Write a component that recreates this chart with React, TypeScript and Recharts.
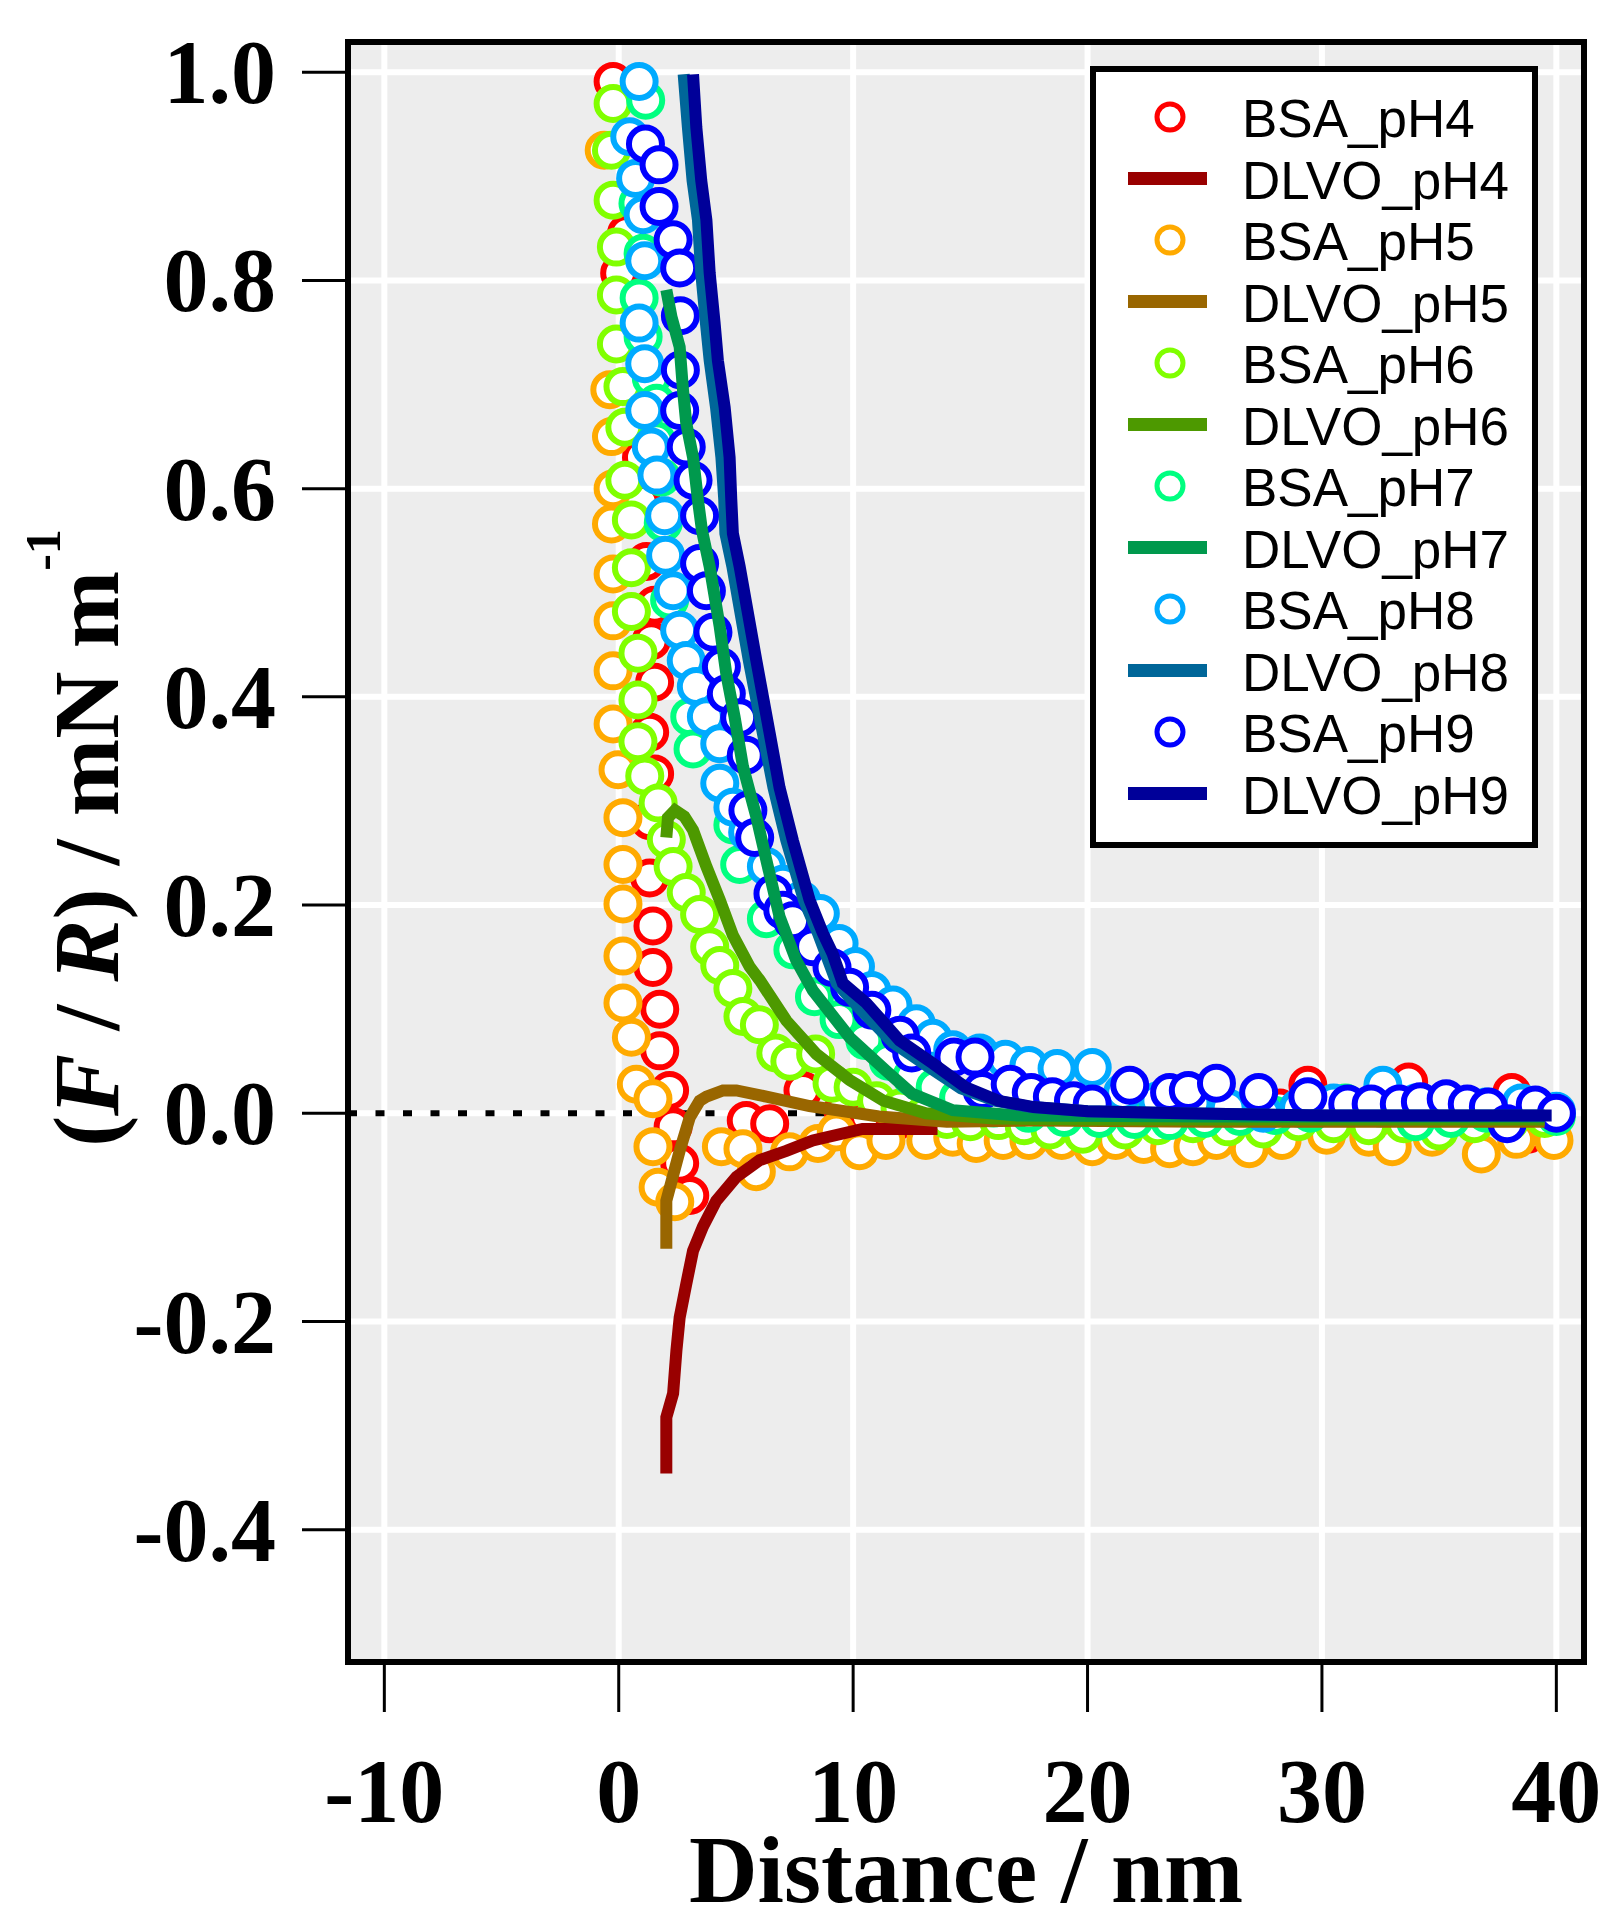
import React from 'react'
import {
  ComposedChart,
  Scatter,
  Line,
  XAxis,
  YAxis,
  CartesianGrid,
  ReferenceLine,
  ReferenceArea,
} from 'recharts'

// Force curves (F/R) vs separation distance, BSA layers at pH 4-9, with DLVO fits

type Pt = [number, number]

const xTicks = [-10, 0, 10, 20, 30, 40]
const yTicks = [-0.4, -0.2, 0, 0.2, 0.4, 0.6, 0.8, 1.0]

const bsaPH4: Pt[] = [
  [-0.24, 0.991], [0.33, 0.845], [0.04, 0.807], [1.18, 0.698], [0.97, 0.63], [0.97, 0.587],
  [1.18, 0.53], [1.53, 0.488], [1.39, 0.454], [1.53, 0.414], [1.32, 0.366], [1.53, 0.326],
  [1.32, 0.281], [1.32, 0.226], [1.46, 0.18], [1.46, 0.14], [1.75, 0.1], [1.75, 0.06],
  [2.17, 0.022], [2.32, -0.013], [2.6, -0.048], [3.03, -0.079], [5.44, -0.007], [6.44, -0.01],
  [7.86, 0.022], [9.56, 0.003], [10.6, -0.003], [11.8, -0.008], [13.2, -0.005], [14.6, -0.01],
  [16, -0.005], [17.4, -0.008], [19, -0.003], [20.6, -0.005], [22.2, 0], [23.8, -0.004],
  [25.4, 0], [27, -0.005], [28.2, 0.005], [29.4, 0.027], [30.6, 0.008], [32, 0.005],
  [33.7, 0.03], [35, 0.005], [36.5, -0.005], [38.1, 0.02], [38.8, -0.02], [40, 0],
]

const bsaPH5: Pt[] = [
  [-0.62, 0.925], [-0.38, 0.695], [-0.31, 0.65], [-0.24, 0.6], [-0.31, 0.566], [-0.24, 0.518],
  [-0.24, 0.473], [-0.24, 0.425], [-0.24, 0.374], [-0.03, 0.33], [0.18, 0.284], [0.18, 0.239],
  [0.18, 0.201], [0.18, 0.151], [0.18, 0.106], [0.54, 0.073], [0.75, 0.028], [1.46, 0.014],
  [1.46, -0.032], [1.68, -0.071], [2.39, -0.085], [4.38, -0.032], [5.3, -0.034], [5.87, -0.056],
  [7.29, -0.037], [8.5, -0.029], [9.28, -0.018], [10.27, -0.036], [11.4, -0.026], [13.1, -0.026],
  [14.25, -0.023], [15.25, -0.029], [16.4, -0.026], [17.5, -0.026], [18.9, -0.026], [20.2, -0.032],
  [21.2, -0.026], [22.4, -0.03], [23.5, -0.034], [24.5, -0.032], [25.5, -0.026], [26.9, -0.034],
  [28.3, -0.026], [30.2, -0.021], [32, -0.023], [33, -0.032], [34.7, -0.023], [36.8, -0.039],
  [38.3, -0.025], [39.9, -0.026],
]

const bsaPH6: Pt[] = [
  [-0.24, 0.97], [-0.31, 0.925], [-0.24, 0.877], [-0.1, 0.832], [-0.1, 0.786], [-0.1, 0.739],
  [0.18, 0.698], [0.26, 0.659], [0.26, 0.608], [0.54, 0.57], [0.54, 0.524], [0.54, 0.482],
  [0.82, 0.442], [0.82, 0.397], [0.82, 0.357], [1.11, 0.324], [1.68, 0.298], [2.03, 0.263],
  [2.32, 0.237], [2.88, 0.212], [3.45, 0.191], [3.88, 0.16], [4.31, 0.142], [4.87, 0.12],
  [5.3, 0.093], [6.0, 0.085], [6.7, 0.058], [7.3, 0.05], [8.4, 0.057], [9.1, 0.029],
  [10, 0.025], [11, 0.012], [12, 0.005], [13, -0.002], [14, -0.006], [15, -0.008],
  [16.2, -0.007], [17.3, -0.012], [18.4, -0.016], [19.8, -0.02], [21.6, -0.016], [23, -0.012],
  [24.5, -0.01], [26, -0.013], [27.5, -0.015], [29, -0.008], [30.5, -0.01], [32, -0.012],
  [33.5, -0.01], [35, -0.017], [36.5, -0.01], [38, -0.008], [39.5, -0.005],
]

const bsaPH7: Pt[] = [
  [1.15, 0.973], [0.82, 0.874], [1.04, 0.826], [0.87, 0.783], [1.04, 0.746], [1.39, 0.706],
  [1.61, 0.682], [1.61, 0.646], [1.82, 0.611], [1.9, 0.567], [2.17, 0.493], [3.03, 0.381],
  [3.17, 0.35], [4.87, 0.277], [5.16, 0.239], [6.3, 0.187], [7.43, 0.157], [8.35, 0.112],
  [9.4, 0.09], [10.5, 0.07], [11.5, 0.05], [12.5, 0.035], [13.5, 0.025], [14.5, 0.015],
  [16, 0.005], [17.5, 0], [19, -0.004], [20.5, -0.005], [22, -0.006], [23.5, -0.007],
  [25, -0.005], [26.5, -0.003], [28, -0.002], [29.5, 0], [31, 0.01], [32.5, 0.005],
  [34, -0.008], [35.5, -0.005], [37, 0], [38.5, 0.005], [40, -0.003],
]

const bsaPH8: Pt[] = [
  [0.87, 0.991], [0.47, 0.938], [0.72, 0.898], [1.04, 0.863], [1.11, 0.819], [0.87, 0.759],
  [1.11, 0.72], [1.11, 0.675], [1.39, 0.64], [1.63, 0.613], [1.96, 0.574], [2.0, 0.536],
  [2.32, 0.502], [2.6, 0.464], [2.88, 0.435], [3.31, 0.41], [3.74, 0.381], [4.31, 0.355],
  [4.31, 0.317], [4.87, 0.294], [5.5, 0.27], [6.3, 0.237], [7.0, 0.22], [7.8, 0.205],
  [8.6, 0.192], [9.4, 0.163], [10.1, 0.141], [10.8, 0.118], [11.7, 0.104], [12.7, 0.086],
  [13.4, 0.072], [14.25, 0.061], [15.4, 0.058], [16.5, 0.052], [17.5, 0.046], [18.7, 0.043],
  [20.2, 0.044], [21.5, 0.02], [23, 0.012], [24.5, 0.01], [26, 0.005], [27.5, 0],
  [29, 0.005], [30.5, 0.01], [32.6, 0.027], [34, 0.01], [35.5, 0.008], [37, 0.006],
  [38.5, 0.01], [40, 0.002],
]

const bsaPH9: Pt[] = [
  [1.14, 0.931], [1.72, 0.911], [1.72, 0.871], [2.32, 0.839], [2.6, 0.812], [2.63, 0.766],
  [2.63, 0.714], [2.6, 0.675], [2.88, 0.64], [3.17, 0.608], [3.45, 0.574], [3.45, 0.528],
  [3.74, 0.502], [4.02, 0.462], [4.38, 0.429], [4.59, 0.403], [5.16, 0.38], [5.44, 0.344],
  [5.51, 0.291], [5.8, 0.265], [6.58, 0.211], [7.0, 0.195], [7.42, 0.185], [8.27, 0.16],
  [9.1, 0.14], [9.85, 0.121], [10.8, 0.099], [12.0, 0.075], [12.5, 0.058], [14.3, 0.054],
  [15.2, 0.054], [15.5, 0.022], [16.7, 0.028], [17.6, 0.02], [18.5, 0.016], [19.4, 0.012],
  [20.2, 0.009], [21.8, 0.027], [23.5, 0.02], [24.3, 0.022], [25.5, 0.029], [27.3, 0.02],
  [29.4, 0.016], [31.1, 0.009], [32.1, 0.009], [33.3, 0.009], [34.2, 0.011], [35.3, 0.014],
  [36.2, 0.009], [37.1, 0.006], [37.9, -0.01], [39.1, 0.008], [40, 0],
]

const dlvoPH4: Pt[] = [
  [2.03, -0.346], [2.03, -0.292], [2.32, -0.269], [2.46, -0.228], [2.6, -0.196], [2.88, -0.164],
  [3.17, -0.132], [3.59, -0.109], [4.16, -0.084], [5.02, -0.061], [6.01, -0.045], [7.15, -0.036],
  [8.28, -0.026], [10.4, -0.015], [13.6, -0.015],
]

const dlvoPH5: Pt[] = [
  [2.03, -0.13], [2.03, -0.084], [2.6, -0.036], [3.03, -0.004], [3.45, 0.012], [3.74, 0.016],
  [4.45, 0.022], [5.02, 0.022], [6.3, 0.016], [8.14, 0.007], [11.1, -0.003], [14, -0.008],
  [17.7, -0.007], [25, -0.008], [32, -0.008], [39.5, -0.008],
]

const dlvoPH6: Pt[] = [
  [2.03, 0.265], [2.1, 0.284], [2.4, 0.291], [2.8, 0.285], [3.17, 0.272], [3.74, 0.237],
  [4.31, 0.205], [4.87, 0.171], [5.58, 0.141], [6.01, 0.128], [7.15, 0.089], [8.43, 0.057],
  [9.85, 0.032], [11.3, 0.012], [13.1, 0], [16, -0.005], [20, -0.006], [30, -0.006], [39.5, -0.006],
]

const dlvoPH7: Pt[] = [
  [2.03, 0.791], [2.25, 0.765], [2.6, 0.736], [2.74, 0.695], [2.88, 0.663], [3.17, 0.63],
  [3.38, 0.589], [3.55, 0.56], [3.88, 0.525], [4.31, 0.467], [4.59, 0.422], [4.94, 0.381],
  [5.3, 0.333], [5.87, 0.285], [6.3, 0.243], [6.86, 0.189], [7.57, 0.147], [8.28, 0.118],
  [9.85, 0.073], [11.4, 0.041], [12.5, 0.019], [14.25, 0.003], [17, -0.002], [25, -0.003],
  [39.5, -0.003],
]

const dlvoPH8: Pt[] = [
  [2.77, 0.998], [2.95, 0.947], [3.15, 0.896], [3.38, 0.858], [3.52, 0.807], [3.72, 0.759],
  [3.88, 0.723], [4.15, 0.678], [4.38, 0.63], [4.5, 0.59], [4.55, 0.557], [4.85, 0.525],
  [5.55, 0.435], [6.15, 0.365], [6.6, 0.313], [7.15, 0.262], [7.9, 0.205], [8.5, 0.173],
  [9.3, 0.125], [10.3, 0.1], [11.7, 0.068], [13.2, 0.045], [14.6, 0.024], [16.1, 0.012],
  [17.6, 0.006], [20, 0.002], [24, 0], [30, -0.002], [39.5, -0.002],
]

const dlvoPH9: Pt[] = [
  [3.17, 0.998], [3.31, 0.947], [3.52, 0.896], [3.74, 0.858], [3.88, 0.807], [4.09, 0.759],
  [4.23, 0.723], [4.52, 0.678], [4.73, 0.63], [4.8, 0.59], [4.87, 0.557], [5.16, 0.525],
  [5.87, 0.435], [6.44, 0.365], [6.86, 0.313], [7.43, 0.262], [8.14, 0.205], [8.71, 0.173],
  [9.13, 0.153], [9.56, 0.125], [10.56, 0.106], [11.98, 0.07], [13.4, 0.048], [14.8, 0.025],
  [16.2, 0.012], [17.7, 0.006], [20, 0.002], [24, 0], [30, -0.002], [39.8, -0.002],
]

const toPoints = (pts: Pt[]) => pts.map(([x, y]) => ({ x, y }))

const bsaSeries = [
  { name: 'BSA_pH4', color: '#ff0000', data: bsaPH4 },
  { name: 'BSA_pH5', color: '#ffaa00', data: bsaPH5 },
  { name: 'BSA_pH6', color: '#80ff00', data: bsaPH6 },
  { name: 'BSA_pH7', color: '#00ff80', data: bsaPH7 },
  { name: 'BSA_pH8', color: '#00aaff', data: bsaPH8 },
  { name: 'BSA_pH9', color: '#0000ff', data: bsaPH9 },
]

const dlvoSeries = [
  { name: 'DLVO_pH4', color: '#990000', data: dlvoPH4 },
  { name: 'DLVO_pH5', color: '#996600', data: dlvoPH5 },
  { name: 'DLVO_pH6', color: '#4d9900', data: dlvoPH6 },
  { name: 'DLVO_pH7', color: '#00994d', data: dlvoPH7 },
  { name: 'DLVO_pH8', color: '#006699', data: dlvoPH8 },
  { name: 'DLVO_pH9', color: '#000099', data: dlvoPH9 },
]

const X_DOMAIN: [number, number] = [-11.55, 41.18]
const Y_DOMAIN: [number, number] = [-0.527, 1.029]

const SERIF = "'Liberation Serif', 'Times New Roman', serif"
const SANS = "'Liberation Sans', Arial, sans-serif"

const ring = (color: string) => (props: any) => (
  <circle cx={props.cx} cy={props.cy} r={16.5} fill="#fff" stroke={color} strokeWidth={6} />
)

const YTick = ({ x, y, payload }: any) => (
  <text x={x - 24} y={y} dy={31} textAnchor="end" fontFamily={SERIF} fontWeight="bold" fontSize={90} fill="#000">
    {Number(payload.value).toFixed(1)}
  </text>
)

const XTick = ({ x, y, payload }: any) => (
  <text x={x} y={y} dy={108} textAnchor="middle" fontFamily={SERIF} fontWeight="bold" fontSize={90} fill="#000">
    {payload.value}
  </text>
)

const XTitle = ({ viewBox }: any) => (
  <text
    x={viewBox.x + viewBox.width / 2}
    y={viewBox.y + 240}
    textAnchor="middle"
    fontFamily={SERIF}
    fontWeight="bold"
    fontSize={95}
    fill="#000"
  >
    Distance / nm
  </text>
)

const YTitle = () => (
  <text
    x={118}
    y={838}
    transform="rotate(-90, 118, 838)"
    textAnchor="middle"
    fontFamily={SERIF}
    fontWeight="bold"
    fontSize={93}
    fill="#000"
  >
    <tspan>(</tspan>
    <tspan fontStyle="italic">F</tspan>
    <tspan> / </tspan>
    <tspan fontStyle="italic">R</tspan>
    <tspan>) / mN m</tspan>
    <tspan fontSize={50} dy={-58}>-1</tspan>
  </text>
)

// legend entries in the order of the original box
const legendRows = bsaSeries.flatMap((b, i) => [
  { name: b.name, color: b.color, kind: 'ring' },
  { name: dlvoSeries[i].name, color: dlvoSeries[i].color, kind: 'line' },
])

function LegendBox() {
  return (
    <svg
      width={448}
      height={782}
      style={{ position: 'absolute', left: 1090, top: 66 }}
    >
      <rect x={3} y={3} width={442} height={776} fill="#fff" stroke="#000" strokeWidth={6} />
      {legendRows.map((row, i) => {
        const cy = 51 + 61.5 * i
        return (
          <g key={row.name}>
            {row.kind === 'ring' ? (
              <circle cx={80} cy={cy} r={13} fill="#fff" stroke={row.color} strokeWidth={5} />
            ) : (
              <line x1={38} x2={117} y1={cy} y2={cy} stroke={row.color} strokeWidth={13} />
            )}
            <text x={152} y={cy + 20} fontFamily={SANS} fontSize={53} fill="#000">
              {row.name}
            </text>
          </g>
        )
      })}
    </svg>
  )
}

export default function App() {
  return (
    <div style={{ position: 'relative', width: 1603, height: 1906, background: '#fff' }}>
      <style>{'body{margin:0}'}</style>
      <ComposedChart width={1603} height={1906} margin={{ top: 42, right: 19, bottom: 0, left: 0 }}>
        <CartesianGrid fill="#ededed" stroke="#fff" strokeWidth={6} />
        <XAxis
          type="number"
          dataKey="x"
          domain={X_DOMAIN}
          ticks={xTicks}
          allowDataOverflow
          height={244}
          tickSize={50}
          axisLine={false}
          tickLine={{ stroke: '#000', strokeWidth: 3 }}
          tick={<XTick />}
          label={{ content: (p: any) => <XTitle {...p} /> }}
        />
        <YAxis
          type="number"
          dataKey="y"
          domain={Y_DOMAIN}
          ticks={yTicks}
          allowDataOverflow
          width={348}
          tickSize={46}
          axisLine={false}
          tickLine={{ stroke: '#000', strokeWidth: 3 }}
          tick={<YTick />}
          label={{ content: () => <YTitle /> }}
        />
        <ReferenceLine y={0} stroke="#000" strokeWidth={6} strokeDasharray="9 18.5" zIndex={-50} />
        {bsaSeries.map((s) => (
          <Scatter
            key={s.name}
            name={s.name}
            data={toPoints(s.data)}
            shape={ring(s.color)}
            isAnimationActive={false}
          />
        ))}
        {dlvoSeries.map((s) => (
          <Line
            key={s.name}
            name={s.name}
            data={toPoints(s.data)}
            dataKey="y"
            type="linear"
            stroke={s.color}
            strokeWidth={12}
            dot={false}
            activeDot={false}
            isAnimationActive={false}
            zIndex={700}
          />
        ))}
        <ReferenceArea
          x1={X_DOMAIN[0]}
          x2={X_DOMAIN[1]}
          y1={Y_DOMAIN[0]}
          y2={Y_DOMAIN[1]}
          fill="none"
          fillOpacity={0}
          stroke="#000"
          strokeWidth={6}
          ifOverflow="visible"
          zIndex={1000}
        />
      </ComposedChart>
      <LegendBox />
    </div>
  )
}
